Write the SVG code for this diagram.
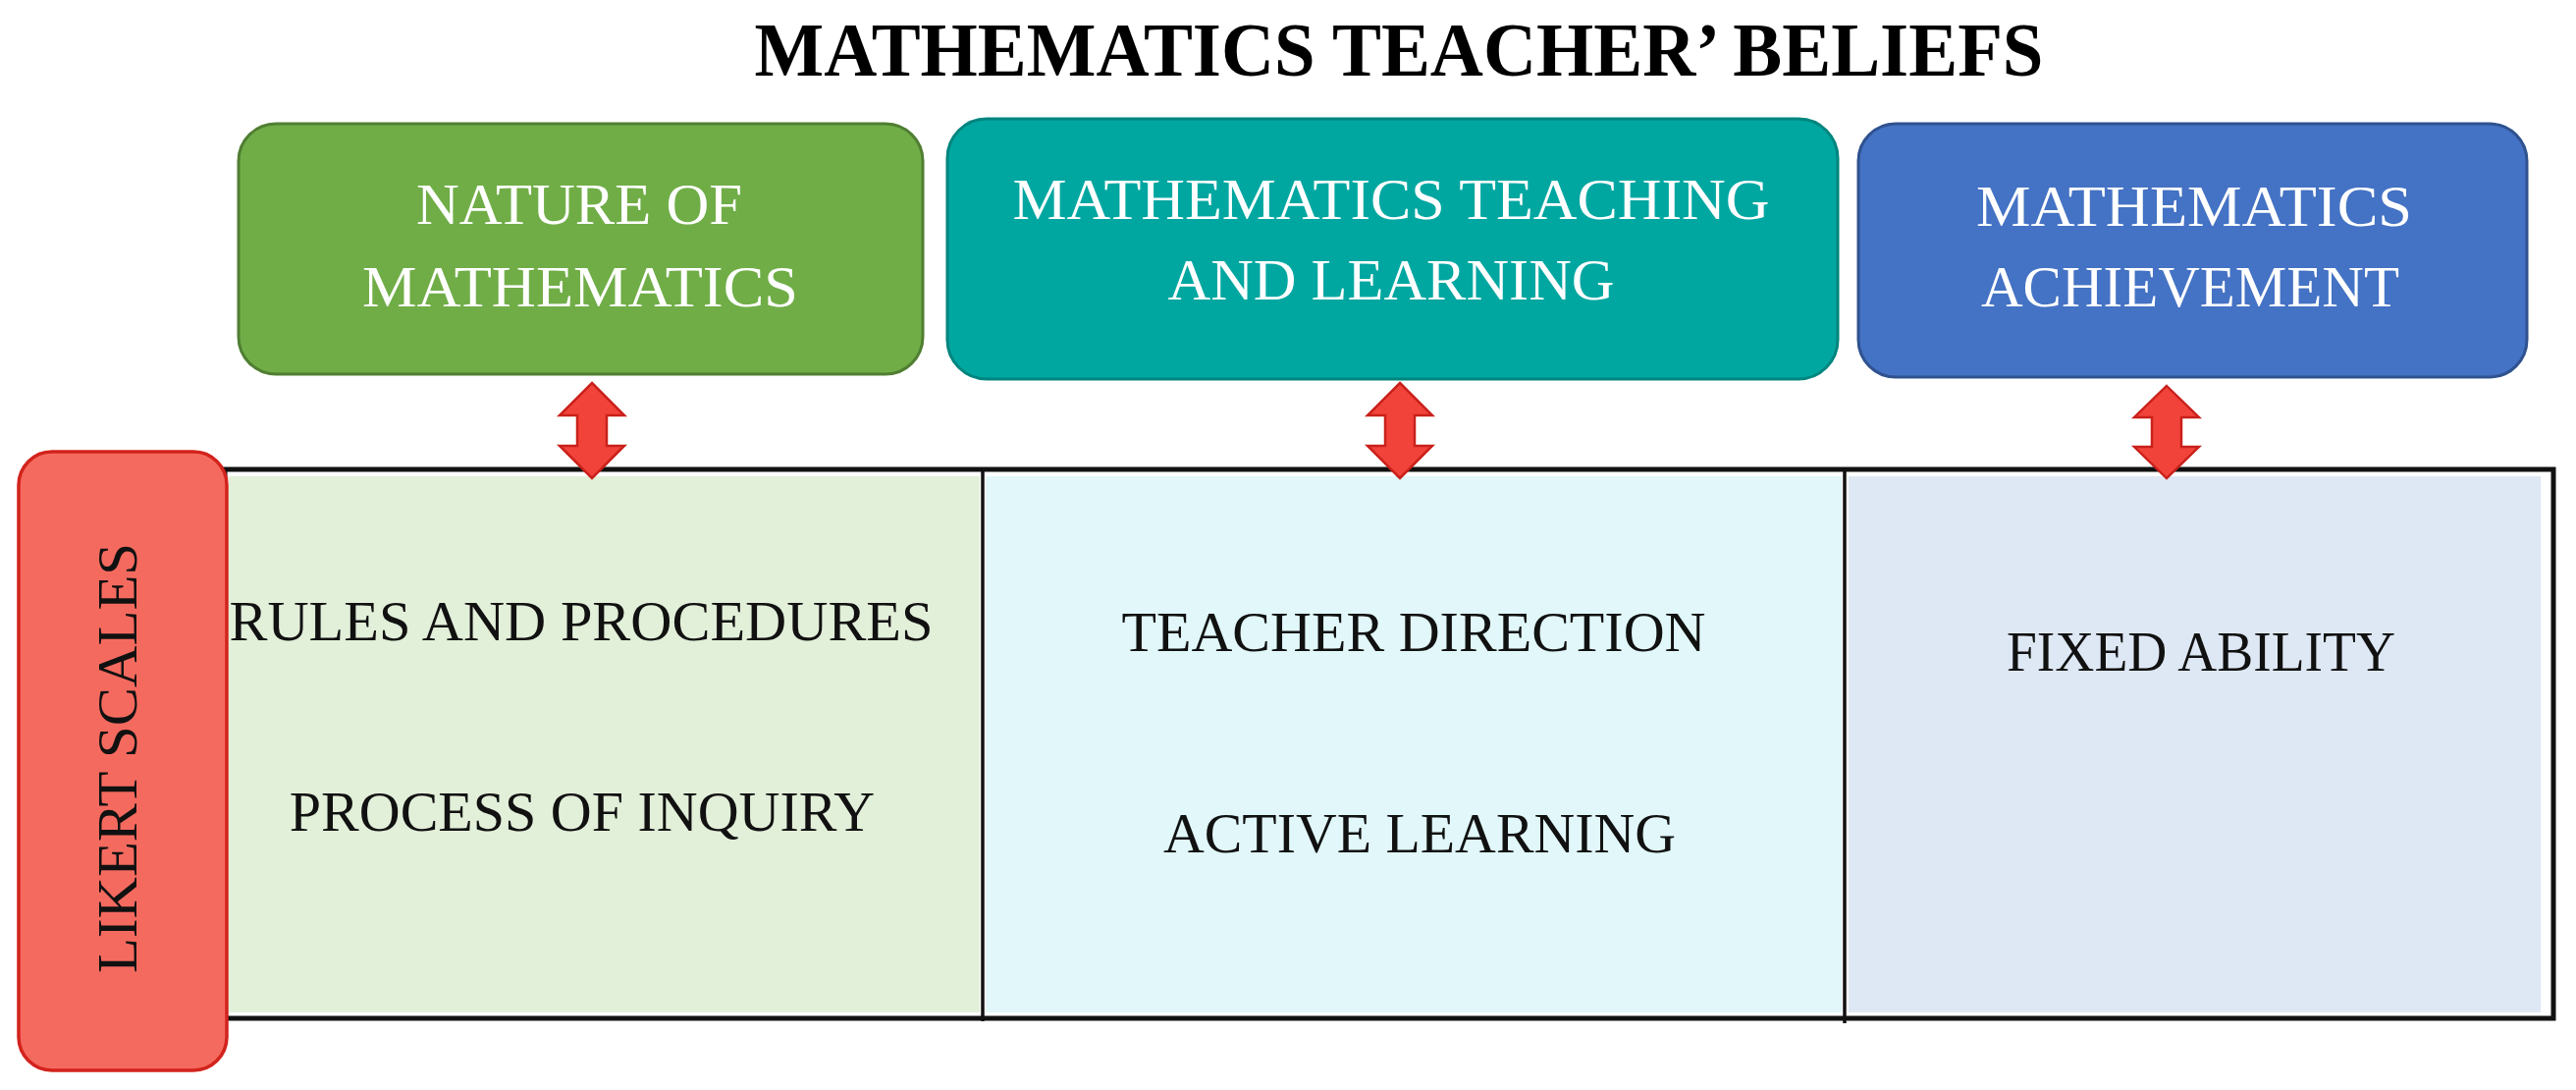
<svg xmlns="http://www.w3.org/2000/svg" width="2624" height="1110" viewBox="0 0 2624 1110">
<style>
.title{font-family:"Liberation Serif","Times New Roman",serif;font-weight:bold;font-size:78px;fill:#000}
.head{font-family:"Liberation Serif","Times New Roman",serif;font-size:60px;fill:#fff;text-anchor:middle}
.item{font-family:"Liberation Serif","Times New Roman",serif;font-size:58px;fill:#111;text-anchor:middle}
.arrow{fill:#F2433A;stroke:#C9211B;stroke-width:2.5;stroke-linejoin:miter}
.border{fill:none;stroke:#111;stroke-width:5}
.div{stroke:#111;stroke-width:3.5}
</style>
<defs>
<path id="dbl" d="M0,0 L33,33 L15,33 L15,64 L33,64 L0,97 L-33,64 L-15,64 L-15,33 L-33,33 Z"/>
</defs>
<rect x="0" y="0" width="2624" height="1110" fill="#fff"/>
<text id="title" class="title" x="1425" y="77" text-anchor="middle" textLength="1313" lengthAdjust="spacingAndGlyphs">MATHEMATICS TEACHER’ BELIEFS</text>

<g id="table">
<rect x="233" y="485" width="765" height="546" fill="#E2EFD9"/>
<rect x="1004" y="485" width="872" height="546" fill="#E1F7F9"/>
<rect x="1883" y="485" width="705" height="546" fill="#DEE8F4"/>
<line class="div" x1="1001" y1="478" x2="1001" y2="1040"/>
<line class="div" x1="1879" y1="478" x2="1879" y2="1042"/>
<rect class="border" x="229" y="478" width="2372" height="559"/>
</g>

<g id="col-nature">
<text class="item" x="592" y="652" textLength="717" lengthAdjust="spacingAndGlyphs">RULES AND PROCEDURES</text>
<text class="item" x="593" y="846">PROCESS OF INQUIRY</text>
</g>
<g id="col-teaching">
<text class="item" x="1440" y="663" textLength="595" lengthAdjust="spacingAndGlyphs">TEACHER DIRECTION</text>
<text class="item" x="1446" y="868" textLength="522" lengthAdjust="spacingAndGlyphs">ACTIVE LEARNING</text>
</g>
<g id="col-achievement">
<text class="item" x="2242" y="683" textLength="396" lengthAdjust="spacingAndGlyphs">FIXED ABILITY</text>
</g>

<g id="likert">
<rect x="19" y="460" width="212" height="630" rx="34" fill="#F56A5F" stroke="#D2231C" stroke-width="3.5"/>
<text class="item" transform="translate(139,772) rotate(-90)" x="0" y="0" textLength="438" lengthAdjust="spacingAndGlyphs">LIKERT SCALES</text>
</g>

<g id="nature">
<rect x="243" y="126" width="697" height="255" rx="38" fill="#70AD47" stroke="#507E32" stroke-width="3"/>
<text class="head" x="590" y="228" textLength="332" lengthAdjust="spacingAndGlyphs">NATURE OF</text>
<text class="head" x="591" y="312" textLength="444" lengthAdjust="spacingAndGlyphs">MATHEMATICS</text>
</g>
<g id="teaching">
<rect x="965" y="121" width="907" height="265" rx="40" fill="#00A7A1" stroke="#00857F" stroke-width="3"/>
<text class="head" x="1417" y="223" textLength="771" lengthAdjust="spacingAndGlyphs">MATHEMATICS TEACHING</text>
<text class="head" x="1417" y="305" textLength="455" lengthAdjust="spacingAndGlyphs">AND LEARNING</text>
</g>
<g id="achievement">
<rect x="1893" y="126" width="681" height="258" rx="38" fill="#4472C4" stroke="#2F528F" stroke-width="3"/>
<text class="head" x="2235" y="230" textLength="444" lengthAdjust="spacingAndGlyphs">MATHEMATICS</text>
<text class="head" x="2231" y="312" textLength="426" lengthAdjust="spacingAndGlyphs">ACHIEVEMENT</text>
</g>

<g id="connectors">
<use href="#dbl" class="arrow" transform="translate(603,390)"/>
<use href="#dbl" class="arrow" transform="translate(1426,390)"/>
<use href="#dbl" class="arrow" transform="translate(2207,393) scale(1,0.97)"/>
</g>
</svg>
